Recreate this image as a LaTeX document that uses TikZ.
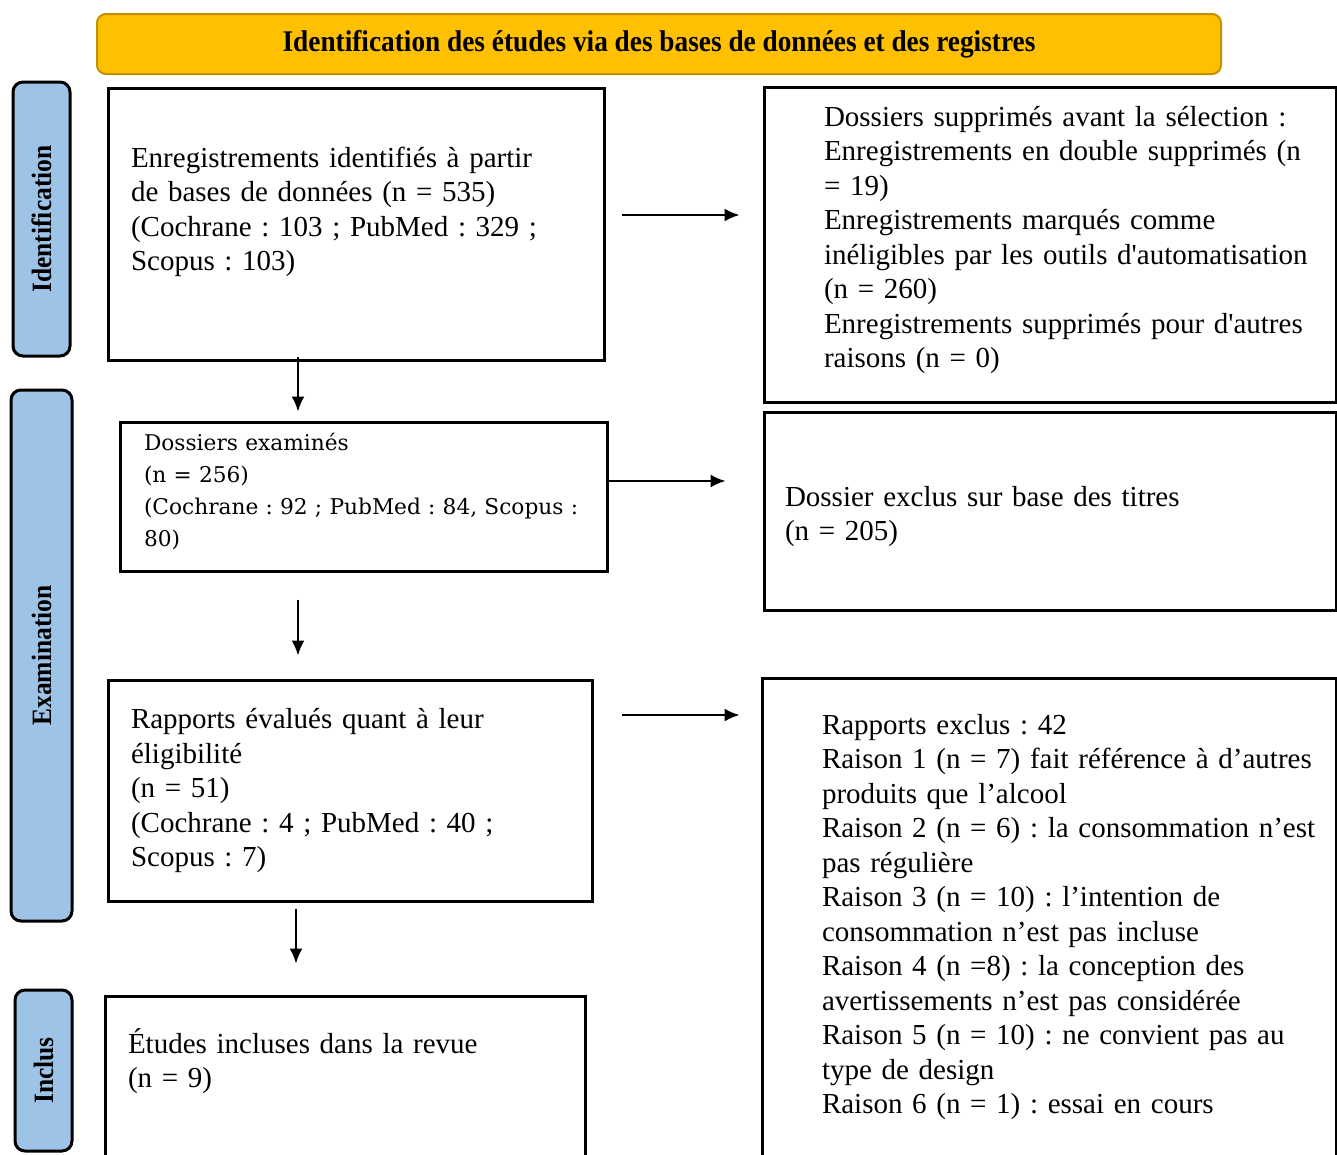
\documentclass[tikz,border=0pt]{standalone}
\usepackage{fontspec}
\setmainfont{Liberation Serif}
\newfontfamily\headfont[FakeStretch=0.91]{Liberation Serif}
\newfontfamily\scrfont{DejaVu Serif}
\usetikzlibrary{arrows.meta}

\definecolor{headfill}{HTML}{FFC000}
\definecolor{headline}{HTML}{BF9000}
\definecolor{sidefill}{HTML}{9DC3E6}

\tikzset{
    box/.style={draw, line width=3pt, inner sep=0pt, align=left,
        font=\fontsize{29}{34.5}\selectfont\frenchspacing},
    side/.style={draw, line width=3pt, fill=sidefill, rounded corners=10pt,
        inner sep=0pt, font=\headfont\bfseries\fontsize{28}{30}\selectfont},
    arr/.style={line width=2pt, -{Latex[length=15pt,width=13pt]}}
}

\begin{document}
\begin{tikzpicture}[x=1pt, y=-1pt]
    \useasboundingbox (0,0) rectangle (1337,1154);

    \node[draw=headline, fill=headfill, line width=2pt, rounded corners=9pt,
        minimum width=1124pt, minimum height=60pt,
        font=\headfont\bfseries\fontsize{30}{32}\selectfont] (head) at (659,44)
        {Identification des études via des bases de données et des registres};

    \node[side, minimum width=274pt, minimum height=57pt, rotate=90] (sideid) at (41.5,219) {Identification};
    \node[side, minimum width=531pt, minimum height=61pt, rotate=90] (sideex) at (41.5,655.5) {Examination};
    \node[side, minimum width=161pt, minimum height=57pt, rotate=90] (sidein) at (43.5,1070.5) {Inclus};

    \node[box, minimum width=496pt, minimum height=272pt, text width=450pt] (ident) at (356,224)
        {Enregistrements identifiés à partir\\
         de bases de données (n = 535)\\
         (Cochrane : 103 ; PubMed : 329 ;\\
         Scopus : 103)\rule[-30pt]{0pt}{1pt}};
    \node[box, minimum width=572pt, minimum height=315pt, text width=542pt] (suppr) at (1050,244.5)
        {\leftskip=45pt
         Dossiers supprimés avant la sélection :\\
         Enregistrements en double supprimés (n\\
         = 19)\\
         Enregistrements marqués comme\\
         inéligibles par les outils d\textquotesingle automatisation\\
         (n = 260)\\
         Enregistrements supprimés pour d\textquotesingle autres\\
         raisons (n = 0)\rule[-15pt]{0pt}{1pt}\par};

    \node[box, minimum width=487pt, minimum height=149pt, text width=439pt,
        font=\scrfont\fontsize{21.7}{32}\selectfont\frenchspacing] (exam) at (363.5,496.5)
        {Dossiers examinés\\
         (n = 256)\\
         (Cochrane : 92 ; PubMed : 84, Scopus :\\
         80)\rule[-14pt]{0pt}{1pt}};
    \node[box, minimum width=572pt, minimum height=198pt, text width=530pt] (titre) at (1050,511)
        {\rule{0pt}{31pt}Dossier exclus sur base des titres\\
         (n = 205)};

    \node[box, minimum width=484pt, minimum height=221pt, text width=438pt] (elig) at (350,790.5)
        {Rapports évalués quant à leur\\
         éligibilité\\
         (n = 51)\\
         (Cochrane : 4 ; PubMed : 40 ;\\
         Scopus : 7)};
    \node[box, minimum width=574pt, minimum height=478pt, text width=544pt] (rapp) at (1049,917)
        {\leftskip=45pt
         Rapports exclus : 42\\
         Raison 1 (n = 7) fait référence à d’autres\\
         produits que l’alcool\\
         Raison 2 (n = 6) : la consommation n’est\\
         pas régulière\\
         Raison 3 (n = 10) : l’intention de\\
         consommation n’est pas incluse\\
         Raison 4 (n =8) : la conception des\\
         avertissements n’est pas considérée\\
         Raison 5 (n = 10) : ne convient pas au\\
         type de design\\
         Raison 6 (n = 1) : essai en cours\par};

    \node[box, minimum width=480pt, minimum height=180pt, text width=434pt] (incl) at (345,1086)
        {Études incluses dans la revue\\
         (n = 9)\rule[-56pt]{0pt}{1pt}};

    % fleches
    \draw[arr, shorten <=16pt, shorten >=23pt] ([yshift=9pt]ident.east) -- ([yshift=9pt]ident.east -| suppr.west);
    \draw[arr, shorten <=-5pt, shorten >=9pt] ([xshift=-58pt]ident.south) -- ([xshift=-58pt]ident.south |- exam.north);
    \draw[arr, shorten >=37pt] ([yshift=15.5pt]exam.east) -- ([yshift=15.5pt]exam.east -| titre.west);
    \draw[arr, shorten <=27pt, shorten >=23pt] ([xshift=-65.5pt]exam.south) -- ([xshift=-65.5pt]exam.south |- elig.north);
    \draw[arr, shorten <=28pt, shorten >=21pt] ([yshift=75.5pt]elig.east) -- ([yshift=75.5pt]elig.east -| rapp.west);
    \draw[arr, shorten <=6pt, shorten >=31pt] ([xshift=-54pt]elig.south) -- ([xshift=-54pt]elig.south |- incl.north);
\end{tikzpicture}
\end{document}
